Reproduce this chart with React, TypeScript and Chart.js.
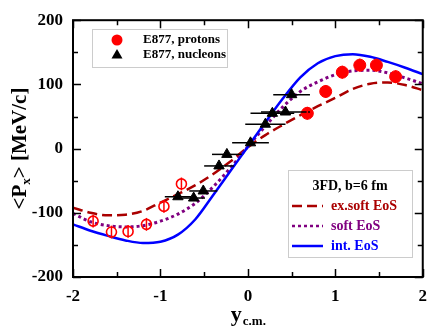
import React, { useEffect, useRef } from "react";
import { Chart, registerables } from "chart.js";

Chart.register(...registerables);

const FONT = '"Liberation Serif", "Times New Roman", serif';

// Theory curves (3FD, b=6 fm), sampled on a rapidity grid
const xGrid = [-2, -1.8, -1.6, -1.4, -1.2, -1.0, -0.8, -0.6, -0.4, -0.2, 0, 0.2, 0.4, 0.6, 0.8, 1.0, 1.2, 1.4, 1.6, 1.8, 2.0];
const exSoftEoS = [-92, -100, -104, -103, -97, -84, -71, -57, -40, -20, 2, 21, 37, 52, 66, 79, 93, 101, 103, 99, 91];
const softEoS = [-101, -114, -120, -122, -120, -113, -102, -85, -60, -30, 3, 35, 65, 89, 104, 115, 121, 122, 118, 110, 101];
const intEoS = [-118, -128, -136, -143, -147, -145, -134, -110, -73, -35, 3, 41, 78, 111, 133, 144, 147, 143, 135, 126, 116];

// E877 protons (measured, filled) and reflected (open)
const protonX = [0.68, 0.89, 1.08, 1.28, 1.47, 1.69];
const protonY = [55, 89, 119, 130, 130, 112];
const protonErr = [10, 10, 10, 10, 10, 10];
const reflX = [-0.76, -0.96, -1.16, -1.37, -1.56, -1.77];
const reflY = [-55, -90, -118, -129, -130, -113];
const reflErr = [10, 10, 10, 10, 10, 10];

// E877 nucleons
const nucX = [-0.80, -0.62, -0.51, -0.33, -0.24, 0.03, 0.20, 0.28, 0.43, 0.50];
const nucY = [-75, -77, -66, -27, -9, 9, 38, 55, 57, 84];
const nucXErr = [0.15, 0.13, 0.16, 0.17, 0.17, 0.21, 0.23, 0.25, 0.28, 0.21];

const xTickLabels = ["-2", "-1", "0", "1", "2"];
const yTickLabels = ["-200", "-100", "0", "100", "200"];

const C_EXSOFT = "#aa0000";
const C_SOFT = "#800080";
const C_INT = "#0000ff";
const C_RED = "#ff0000";

const DASH_EXSOFT = [10, 5];
const DASH_SOFT = [3, 3];

const zip = (xs: number[], ys: number[]) => xs.map((x, i) => ({ x, y: ys[i] }));

const framePlugin = {
  id: "frame",
  afterDraw(chart: any) {
    const { ctx, chartArea: a, scales } = chart;
    const xs = scales.x;
    const ys = scales.y;
    ctx.save();
    ctx.strokeStyle = "#000";
    ctx.setLineDash([]);
    ctx.lineWidth = 1.5;
    for (let v = -2; v <= 2.0001; v += 0.5) {
      const px = Math.round(xs.getPixelForValue(v)) + 0.5;
      const len = Math.abs(v - Math.round(v)) < 1e-6 ? 8 : 5;
      ctx.beginPath();
      ctx.moveTo(px, a.bottom);
      ctx.lineTo(px, a.bottom - len);
      ctx.moveTo(px, a.top);
      ctx.lineTo(px, a.top + len);
      ctx.stroke();
    }
    for (let v = -200; v <= 200.001; v += 50) {
      const py = Math.round(ys.getPixelForValue(v)) + 0.5;
      const len = Math.abs(v % 100) < 1e-6 ? 8 : 5;
      ctx.beginPath();
      ctx.moveTo(a.left, py);
      ctx.lineTo(a.left + len, py);
      ctx.moveTo(a.right, py);
      ctx.lineTo(a.right - len, py);
      ctx.stroke();
    }
    ctx.lineWidth = 2;
    ctx.strokeRect(a.left, a.top, a.right - a.left, a.bottom - a.top);

    // Legend 1 (data)
    ctx.lineWidth = 1;
    ctx.strokeStyle = "#cccccc";
    ctx.strokeRect(92.5, 29.5, 135, 38);
    ctx.fillStyle = C_RED;
    ctx.beginPath();
    ctx.arc(117, 40, 5.5, 0, Math.PI * 2);
    ctx.fill();
    ctx.fillStyle = "#000";
    ctx.beginPath();
    ctx.moveTo(117, 49);
    ctx.lineTo(122.5, 58.5);
    ctx.lineTo(111.5, 58.5);
    ctx.closePath();
    ctx.fill();
    ctx.font = `bold 13px ${FONT}`;
    ctx.textBaseline = "middle";
    ctx.textAlign = "left";
    ctx.fillText("E877, protons", 143, 40);
    ctx.fillText("E877, nucleons", 143, 55);

    // Legend 2 (theory)
    ctx.strokeStyle = "#cccccc";
    ctx.strokeRect(288.5, 170.5, 124, 87);
    ctx.font = `bold 14px ${FONT}`;
    ctx.textAlign = "center";
    ctx.fillStyle = "#000";
    ctx.fillText("3FD, b=6 fm", 350, 186);
    const items = [
      { label: "ex.soft EoS", color: C_EXSOFT, dash: DASH_EXSOFT, y: 206 },
      { label: "soft EoS", color: C_SOFT, dash: DASH_SOFT, y: 226 },
      { label: "int. EoS", color: C_INT, dash: [] as number[], y: 246 },
    ];
    ctx.textAlign = "left";
    for (const it of items) {
      ctx.strokeStyle = it.color;
      ctx.lineWidth = 2.5;
      ctx.setLineDash(it.dash);
      ctx.beginPath();
      ctx.moveTo(292, it.y);
      ctx.lineTo(323, it.y);
      ctx.stroke();
      ctx.setLineDash([]);
      ctx.fillStyle = it.color;
      ctx.fillText(it.label, 331, it.y);
    }

    // Axis titles
    ctx.fillStyle = "#000";
    ctx.textBaseline = "alphabetic";
    ctx.save();
    ctx.translate(26, (a.top + a.bottom) / 2);
    ctx.rotate(-Math.PI / 2);
    const big = `bold 21px ${FONT}`;
    const sub = `bold 13px ${FONT}`;
    ctx.font = big;
    const w1 = ctx.measureText("<P").width;
    const w3 = ctx.measureText("> [MeV/c]").width;
    ctx.font = sub;
    const w2 = ctx.measureText("x").width;
    let sx = -(w1 + w2 + w3) / 2;
    ctx.font = big;
    ctx.fillText("<P", sx, 0);
    sx += w1;
    ctx.font = sub;
    ctx.fillText("x", sx, 4);
    sx += w2;
    ctx.font = big;
    ctx.fillText("> [MeV/c]", sx, 0);
    ctx.restore();
    const cx = (a.left + a.right) / 2;
    ctx.font = `bold 22px ${FONT}`;
    const wy = ctx.measureText("y").width;
    ctx.font = sub;
    const wcm = ctx.measureText("c.m.").width;
    let tx = cx - (wy + wcm) / 2;
    ctx.font = `bold 22px ${FONT}`;
    ctx.fillText("y", tx, 321);
    tx += wy + 1;
    ctx.font = sub;
    ctx.fillText("c.m.", tx, 325);
    ctx.restore();
  },
};

const errorPlugin = {
  id: "errors",
  afterDatasetsDraw(chart: any) {
    const { ctx, scales } = chart;
    const xs = scales.x;
    const ys = scales.y;
    ctx.save();
    ctx.setLineDash([]);
    ctx.lineWidth = 1.5;
    ctx.strokeStyle = "#000";
    nucX.forEach((x, i) => {
      const py = ys.getPixelForValue(nucY[i]);
      ctx.beginPath();
      ctx.moveTo(xs.getPixelForValue(x - nucXErr[i]), py);
      ctx.lineTo(xs.getPixelForValue(x + nucXErr[i]), py);
      ctx.stroke();
    });
    ctx.strokeStyle = C_RED;
    const vbars = (X: number[], Y: number[], E: number[]) =>
      X.forEach((x, i) => {
        const px = xs.getPixelForValue(x);
        ctx.beginPath();
        ctx.moveTo(px, ys.getPixelForValue(Y[i] - E[i]));
        ctx.lineTo(px, ys.getPixelForValue(Y[i] + E[i]));
        ctx.stroke();
      });
    vbars(protonX, protonY, protonErr);
    vbars(reflX, reflY, reflErr);
    ctx.restore();
  },
};

export default function App() {
  const ref = useRef<HTMLCanvasElement | null>(null);
  useEffect(() => {
    if (!ref.current) return;
    const tickFont = { family: FONT, size: 17, weight: "bold" as const };
    const chart = new Chart(ref.current, {
      type: "scatter",
      data: {
        datasets: [
          {
            label: "E877, protons",
            data: zip(protonX, protonY),
            pointStyle: "circle",
            pointRadius: 6,
            backgroundColor: C_RED,
            borderColor: C_RED,
            borderWidth: 1,
            showLine: false,
          },
          {
            label: "E877, protons (reflected)",
            data: zip(reflX, reflY),
            pointStyle: "circle",
            pointRadius: 5,
            backgroundColor: "rgba(0,0,0,0)",
            borderColor: C_RED,
            borderWidth: 1.6,
            showLine: false,
          },
          {
            label: "E877, nucleons",
            data: zip(nucX, nucY),
            pointStyle: "triangle",
            pointRadius: 6,
            backgroundColor: "#000",
            borderColor: "#000",
            borderWidth: 1,
            showLine: false,
          },
          {
            label: "int. EoS",
            data: zip(xGrid, intEoS),
            showLine: true,
            pointRadius: 0,
            borderColor: C_INT,
            borderWidth: 2.5,
            cubicInterpolationMode: "monotone",
          },
          {
            label: "soft EoS",
            data: zip(xGrid, softEoS),
            showLine: true,
            pointRadius: 0,
            borderColor: C_SOFT,
            borderWidth: 3,
            borderDash: DASH_SOFT,
            cubicInterpolationMode: "monotone",
          },
          {
            label: "ex.soft EoS",
            data: zip(xGrid, exSoftEoS),
            showLine: true,
            pointRadius: 0,
            borderColor: C_EXSOFT,
            borderWidth: 2.5,
            borderDash: DASH_EXSOFT,
            cubicInterpolationMode: "monotone",
          },
        ],
      },
      options: {
        animation: false,
        responsive: false,
        maintainAspectRatio: false,
        layout: { padding: { top: 7, right: 5, left: 0, bottom: 0 } },
        plugins: { legend: { display: false }, tooltip: { enabled: false } },
        scales: {
          x: {
            type: "linear",
            min: -2,
            max: 2,
            afterFit: (s: any) => {
              s.height = 53;
            },
            afterBuildTicks: (s: any) => {
              s.ticks = xTickLabels.map((t) => ({ value: Number(t) }));
            },
            ticks: {
              font: tickFont,
              color: "#000",
              padding: 9,
              maxRotation: 0,
              callback: (v: any) => xTickLabels.find((t) => Number(t) === v) ?? "",
            },
            grid: { display: false, drawTicks: false },
            border: { display: false },
          },
          y: {
            type: "linear",
            min: -200,
            max: 200,
            afterFit: (s: any) => {
              s.width = 73;
            },
            afterBuildTicks: (s: any) => {
              s.ticks = yTickLabels.map((t) => ({ value: Number(t) }));
            },
            ticks: {
              font: tickFont,
              color: "#000",
              padding: 10,
              callback: (v: any) => yTickLabels.find((t) => Number(t) === v) ?? "",
            },
            grid: { display: false, drawTicks: false },
            border: { display: false },
          },
        },
      },
      plugins: [errorPlugin, framePlugin],
    } as any);
    return () => chart.destroy();
  }, []);
  return (
    <div style={{ position: "fixed", left: 0, top: 0, width: 436, height: 330, background: "#fff" }}>
      <canvas ref={ref} width={436} height={330} style={{ display: "block" }} />
    </div>
  );
}
